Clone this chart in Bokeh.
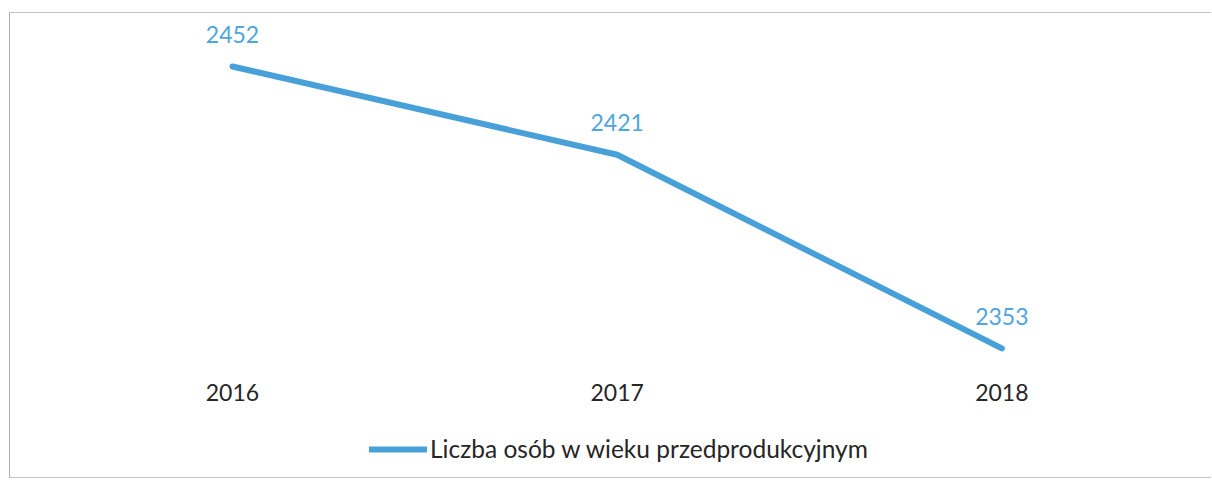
from bokeh.plotting import figure
from bokeh.layouts import column
from bokeh.models import ColumnDataSource, Range1d, FixedTicker, Legend, LegendItem
from bokeh.core.properties import value
from bokeh.embed import file_html
from bokeh.resources import INLINE

years = [2016, 2017, 2018]
counts = [2452, 2421, 2353]
count_labels = ["2452", "2421", "2353"]
series_name = "Liczba osób w wieku przedprodukcyjnym"

LINE = "#48a0d8"
LABEL = "#4ea6dc"
FONT = "Lato"

src = ColumnDataSource(dict(x=years, y=counts, t=count_labels))

# main chart: line, value labels, year axis
p = figure(width=1201, height=400, output_backend="svg", toolbar_location=None,
           x_range=Range1d(2015.423, 2018.545), y_range=Range1d(2344.55, 2470.6),
           min_border_left=0, min_border_right=0, min_border_top=0, min_border_bottom=41)
p.outline_line_color = None
p.xgrid.visible = False
p.ygrid.visible = False
p.yaxis.visible = False

ax = p.xaxis[0]
ax.ticker = FixedTicker(ticks=years)
ax.axis_line_color = None
ax.major_tick_line_color = None
ax.minor_tick_line_color = None
ax.major_label_text_font = FONT
ax.major_label_text_font_size = "23px"
ax.major_label_text_color = "#262626"
ax.major_label_standoff = 5

r = p.line("x", "y", source=src, line_color=LINE, line_width=6, line_cap="round", line_join="round")
p.text("x", "y", text="t", source=src, text_font=value(FONT), text_font_size="23px",
       text_color=LABEL, text_align="center", text_baseline="middle", y_offset=-32)

# legend strip below the axis
lg = figure(width=1201, height=64, output_backend="svg", toolbar_location=None,
            x_axis_type=None, y_axis_type=None,
            min_border_left=0, min_border_right=0, min_border_top=0, min_border_bottom=0)
lg.outline_line_color = None
lg.xgrid.visible = False
lg.ygrid.visible = False
r2 = lg.line("x", "y", source=src, line_color=LINE, line_width=6, line_cap="round", visible=False)

legend = Legend(items=[LegendItem(label=series_name, renderers=[r2])], location=(359, 14),
                orientation="horizontal", glyph_width=58, glyph_height=20, label_standoff=3,
                label_text_font=FONT, label_text_font_size="24.5px", label_text_color="#262626",
                border_line_color=None, background_fill_alpha=0, padding=0, margin=0)
lg.add_layout(legend, "center")

layout = column(p, lg, spacing=0,
                styles={"border-left": "1px solid #b0b0b0", "border-top": "1px solid #c4c4c4",
                        "border-bottom": "1px solid #c4c4c4", "margin-top": "12px",
                        "margin-left": "9px"})

open("out.html", "w").write(file_html(layout, INLINE))
